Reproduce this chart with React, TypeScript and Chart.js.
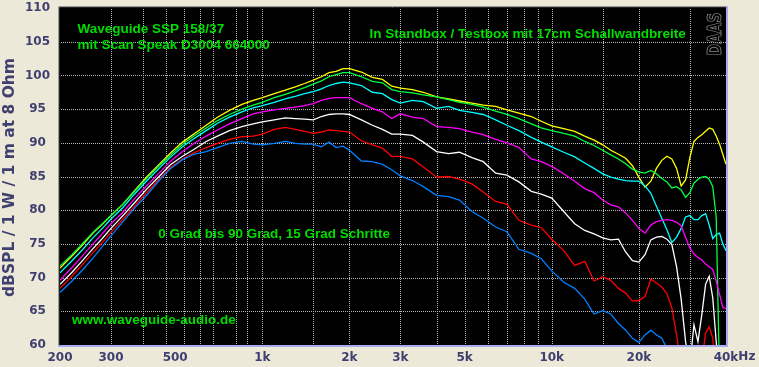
import React, { useEffect, useRef } from 'react';
import { Chart, registerables } from 'chart.js';
Chart.register(...registerables);

// frequency points (Hz)
const freqs = [200,220,240,260,280,300,330,360,400,440,480,530,580,640,700,770,850,930,
  1000,1100,1200,1300,1400,1500,1600,1700,1800,1900,2000,2200,2400,2600,2800,3000,3300,3600,4000,4400,4800,5300,5800,6400,7000,7700,8500,9200,
  10000,11000,12000,13000,14000,15000,16000,17000,18000,19000,20000,
  21000,22000,23000,24000,25000,26000,27000,28000,29000,30000,31000,32000,33000,34000,35000,36000,37000,38000,39000,40000];

// dB SPL values, 0..90 degrees
const deg0 = [71.4,73.2,74.9,76.6,77.9,79.2,80.9,82.8,85.0,86.8,88.4,90.1,91.3,92.6,93.8,94.8,95.7,96.3,
  96.7,97.3,97.8,98.3,98.8,99.3,99.8,100.4,100.6,101.0,101.0,100.5,99.7,99.4,98.4,98.1,97.9,97.5,96.8,96.5,96.2,95.9,95.6,95.4,94.9,94.4,93.9,93.2,
  92.5,92.1,91.7,91.0,90.4,89.7,88.9,88.3,87.7,86.6,84.9,
  83.4,84.3,86.2,87.4,88.0,87.6,86.2,83.6,84.5,87.8,90.2,90.8,91.2,91.7,92.2,92.0,91.0,89.8,88.3,86.8];
const deg15 = [71.7,73.4,75.1,76.7,78.0,79.2,80.9,82.7,84.8,86.6,88.1,89.8,91.0,92.2,93.3,94.2,95.0,95.6,
  96.0,96.7,97.2,97.7,98.2,98.7,99.2,99.8,100.1,100.4,100.4,99.8,99.1,98.9,97.9,97.6,97.4,97.1,96.8,96.4,96.0,95.7,95.3,94.7,94.2,93.6,92.8,92.2,
  91.8,91.4,91.0,90.2,89.6,88.9,88.2,87.6,86.9,86.1,85.7,
  85.5,85.9,85.4,84.7,84.2,83.3,83.5,83.0,81.9,82.6,84.0,84.6,84.9,85.0,84.6,83.5,79.0,55,55,55];
const deg30 = [70.7,72.5,74.2,75.9,77.3,78.7,80.4,82.3,84.4,86.2,87.8,89.4,90.6,91.8,92.9,93.8,94.6,95.2,
  95.5,96.0,96.5,96.9,97.3,97.6,98.0,98.5,98.8,99.0,98.9,98.5,97.5,97.3,96.4,95.9,96.3,96.1,95.1,95.4,94.8,94.5,94.2,93.4,92.6,91.8,90.8,90.1,
  89.4,88.6,87.9,87.0,86.2,85.4,84.9,84.6,84.4,84.3,84.3,
  83.6,82.5,80.6,78.8,77.1,75.2,76.0,77.3,79.0,79.2,78.6,78.6,79.2,79.5,77.8,75.8,76.4,76.6,75.0,74.0];
const deg45 = [69.6,71.5,73.3,75.0,76.5,78.0,79.7,81.6,83.7,85.5,87.2,88.7,89.9,91.0,91.9,92.8,93.6,94.3,
  94.6,94.9,95.1,95.3,95.5,95.8,96.3,96.6,96.7,96.7,96.7,95.8,95.1,94.6,93.6,94.3,93.8,93.6,92.4,92.3,92.1,91.6,91.2,90.5,90.0,89.3,87.6,87.2,
  86.5,85.4,84.3,83.2,82.6,81.5,80.8,80.5,79.6,78.5,77.3,
  76.6,77.8,78.3,78.5,78.6,78.5,78.2,77.7,76.0,74.4,73.5,73.0,72.6,72.0,71.6,71.2,69.5,67.5,65.6,65.4];
const deg60 = [69.0,70.8,72.6,74.3,75.8,77.3,79.2,81.0,83.2,85.0,86.7,88.0,89.0,90.2,91.0,91.8,92.4,92.8,
  93.1,93.4,93.7,93.6,93.5,93.4,93.9,94.2,94.3,94.3,94.2,93.4,92.6,92.0,91.3,91.3,91.1,90.1,88.7,88.4,88.6,87.8,87.2,85.5,85.2,84.2,82.8,82.4,
  81.8,79.8,78.0,77.0,76.5,75.9,75.6,75.7,73.8,72.5,72.3,
  73.4,75.6,76.0,76.1,75.7,74.9,71.6,66.8,60.5,57.0,63.0,60.5,64.5,69.0,70.2,67.0,60.5,55,55,55];
const deg75 = [68.4,70.2,72.0,73.7,75.2,76.7,78.7,80.5,82.7,84.6,86.3,87.6,88.5,89.3,89.9,90.5,90.9,91.0,
  91.3,92.0,92.3,92.0,91.7,91.4,91.6,91.9,91.8,91.7,91.6,90.3,89.7,89.2,88.0,88.0,87.6,86.4,84.9,85.0,84.6,83.9,82.7,81.3,80.9,78.5,77.8,77.4,
  75.7,74.0,71.8,72.4,69.5,70.1,69.6,68.4,67.7,66.5,66.6,
  67.2,69.8,69.2,68.6,67.6,65.5,61.5,57.0,55,55,55,55,57.5,61.8,62.7,61.0,55,55,55,55];
const deg90 = [67.8,69.5,71.2,72.9,74.6,76.2,78.3,80.2,82.3,84.4,86.1,87.5,88.3,88.7,89.3,89.9,90.2,89.8,
  89.7,89.9,90.2,89.9,89.8,89.8,89.4,90.1,89.3,89.5,88.9,87.3,87.2,86.8,86.0,85.1,84.4,83.5,82.2,82.0,81.5,79.8,78.8,77.5,76.8,74.2,73.6,72.8,
  71.0,69.3,68.4,66.8,64.6,65.1,64.6,63.2,62.2,61.0,60.4,
  61.5,62.2,61.5,61.0,59.5,55,55,55,55,55,55,55,55,55,55,55,55,55,55,55];

const seriesNames = ['0 Grad', '15 Grad', '30 Grad', '45 Grad', '60 Grad', '75 Grad', '90 Grad'];
const seriesColors = ['#FFFF00', '#00FF40', '#00FFFF', '#FF00FF', '#FFFFFF', '#FF0000', '#0080FF'];
const seriesValues = [deg0, deg15, deg30, deg45, deg60, deg75, deg90];

const xTickValues = [200, 300, 500, 1000, 2000, 3000, 5000, 10000, 20000, 40000];
const xTickLabels = ['200', '300', '500', '1k', '2k', '3k', '5k', '10k', '20k', '40k'];
const xGridFreqs = [300, 387, 464, 535, 608, 674, 809, 883, 1000, 1500, 2000, 3000, 4000, 5000, 6000, 7000, 8000, 9000, 10000, 15000, 20000, 30000];
const yGridLevels = [65, 70, 75, 80, 85, 90, 95, 100, 105];

const yTitle = 'dBSPL / 1 W / 1 m at 8 Ohm';
const notes = [
  { text: 'Waveguide SSP 158/37', f: 230, v: 106.3 },
  { text: 'mit Scan Speak D3004 664000', f: 230, v: 103.85 },
  { text: 'In Standbox / Testbox mit 17cm Schallwandbreite', f: 2344, v: 105.6 },
  { text: '0 Grad bis 90 Grad, 15 Grad Schritte', f: 437, v: 75.9 },
  { text: 'www.waveguide-audio.de', f: 220, v: 63.1 },
];

const AXIS_COLOR = '#404070';
const TEXT_GREEN = '#00DD00';
const BG = '#ECE9D8';
const GRID_COLOR = '#b8b8b8';

function drawGrid(chart: any) {
  const { ctx, chartArea: a } = chart;
  const xs = chart.scales.x, ys = chart.scales.y;
  ctx.save();
  ctx.fillStyle = GRID_COLOR;
  const top = Math.ceil(a.top), bottom = Math.floor(a.bottom);
  const left = Math.ceil(a.left), right = Math.floor(a.right);
  for (let k = 0; k < xGridFreqs.length; k++) {
    const px = Math.round(xs.getPixelForValue(xGridFreqs[k]));
    for (let y = top + 1; y < bottom; y += 2) ctx.fillRect(px, y, 1, 1);
  }
  for (let k = 0; k < yGridLevels.length; k++) {
    const py = Math.round(ys.getPixelForValue(yGridLevels[k]));
    for (let x = left + 1; x < right; x += 2) ctx.fillRect(x, py, 1, 1);
  }
  ctx.restore();
}

const framePlugin = {
  id: 'frame',
  beforeDraw(chart: any) {
    const { ctx, chartArea: a } = chart;
    ctx.save();
    ctx.fillStyle = BG;
    ctx.fillRect(0, 0, chart.width, chart.height);
    ctx.fillStyle = '#000000';
    ctx.fillRect(a.left, a.top, a.right - a.left, a.bottom - a.top);
    ctx.restore();
  },
  beforeDatasetsDraw(chart: any) {
    drawGrid(chart);
  },
  afterDraw(chart: any) {
    const { ctx, chartArea: a } = chart;
    const xs = chart.scales.x, ys = chart.scales.y;
    ctx.save();
    // frame
    ctx.lineWidth = 1;
    ctx.setLineDash([]);
    ctx.strokeStyle = '#9a9a9a';
    ctx.beginPath(); ctx.moveTo(a.left - 1.5, a.bottom + 1); ctx.lineTo(a.left - 1.5, a.top - 1.5); ctx.lineTo(a.right + 1, a.top - 1.5); ctx.stroke();
    ctx.strokeStyle = '#202020';
    ctx.beginPath(); ctx.moveTo(a.left - 0.5, a.bottom); ctx.lineTo(a.left - 0.5, a.top - 0.5); ctx.lineTo(a.right, a.top - 0.5); ctx.stroke();
    ctx.strokeStyle = '#AAAAF0';
    ctx.lineWidth = 2;
    ctx.beginPath(); ctx.moveTo(a.left - 2, a.bottom + 1); ctx.lineTo(a.right + 1, a.bottom + 1); ctx.lineTo(a.right + 1, a.top - 2); ctx.stroke();

    // annotations
    ctx.fillStyle = TEXT_GREEN;
    ctx.font = 'bold 13.5px "Liberation Sans", Arial, sans-serif';
    ctx.textAlign = 'left';
    ctx.textBaseline = 'alphabetic';
    for (const n of notes) {
      ctx.fillText(n.text, xs.getPixelForValue(n.f), ys.getPixelForValue(n.v));
    }

    // DAAS logo
    ctx.save();
    ctx.translate(a.right - 10, a.top + 26);
    ctx.rotate(-Math.PI / 2);
    ctx.font = 'bold 19px "DejaVu Sans", sans-serif';
    const w = ctx.measureText('DAAS').width;
    ctx.scale(43 / w, 1);
    ctx.strokeStyle = '#8c8c8c';
    ctx.lineWidth = 0.8;
    ctx.textAlign = 'center';
    ctx.textBaseline = 'middle';
    ctx.strokeText('DAAS', 0, 0);
    ctx.restore();

    // y title
    ctx.save();
    ctx.translate(10, (a.top + a.bottom) / 2 + 1);
    ctx.rotate(-Math.PI / 2);
    ctx.fillStyle = AXIS_COLOR;
    ctx.font = 'bold 15.5px "DejaVu Sans", sans-serif';
    ctx.textAlign = 'center';
    ctx.textBaseline = 'middle';
    ctx.fillText(yTitle, 0, 0);
    ctx.restore();

    // "Hz" after last tick label
    ctx.font = 'bold 12px "DejaVu Sans", sans-serif';
    ctx.fillStyle = AXIS_COLOR;
    const lw = ctx.measureText(xTickLabels[xTickLabels.length - 1]).width;
    ctx.textAlign = 'left';
    ctx.textBaseline = 'top';
    ctx.fillText('Hz', xs.getPixelForValue(40000) + lw / 2, a.bottom + 6);
    ctx.restore();
  },
};

export default function App() {
  const ref = useRef<HTMLCanvasElement | null>(null);
  useEffect(() => {
    if (!ref.current) return;
    const datasets = seriesValues.map((vals, i) => ({
      label: seriesNames[i],
      data: freqs.map((f, j) => ({ x: f, y: vals[j] })),
      borderColor: seriesColors[i],
      backgroundColor: seriesColors[i],
      borderWidth: 1.3,
      pointRadius: 0,
      pointHoverRadius: 0,
      tension: 0,
      fill: false,
    })).reverse();
    const chart = new Chart(ref.current, {
      type: 'line',
      data: { datasets },
      plugins: [framePlugin],
      options: {
        responsive: false,
        animation: false,
        events: [],
        layout: { autoPadding: false, padding: { left: 0, right: 33, top: 8, bottom: 0 } },
        plugins: { legend: { display: false }, tooltip: { enabled: false } },
        scales: {
          x: {
            type: 'logarithmic',
            min: 200,
            max: 40000,
            grid: { display: false, drawTicks: false },
            border: { display: false },
            afterBuildTicks: (s: any) => { s.ticks = xTickValues.map((v) => ({ value: v })); },
            afterFit: (s: any) => { s.height = 22; s.paddingLeft = 0; s.paddingRight = 0; },
            ticks: {
              autoSkip: false,
              maxRotation: 0,
              minRotation: 0,
              padding: 6,
              color: AXIS_COLOR,
              font: { family: '"DejaVu Sans", sans-serif', weight: 'bold', size: 12 },
              callback: (_v: any, i: number) => xTickLabels[i],
            },
          },
          y: {
            min: 60,
            max: 110,
            grid: { display: false, drawTicks: false },
            border: { display: false },
            afterFit: (s: any) => { s.width = 60; s.paddingTop = 0; s.paddingBottom = 0; },
            ticks: {
              stepSize: 5,
              padding: 10,
              crossAlign: 'center',
              color: AXIS_COLOR,
              font: { family: '"DejaVu Sans", sans-serif', weight: 'bold', size: 12 },
            },
          },
        },
      } as any,
    });
    return () => chart.destroy();
  }, []);
  return (
    <div style={{ position: 'absolute', left: 0, top: 0, width: 759, height: 367, background: BG }}>
      <canvas ref={ref} width={759} height={367} style={{ display: 'block', width: 759, height: 367 }} />
    </div>
  );
}
